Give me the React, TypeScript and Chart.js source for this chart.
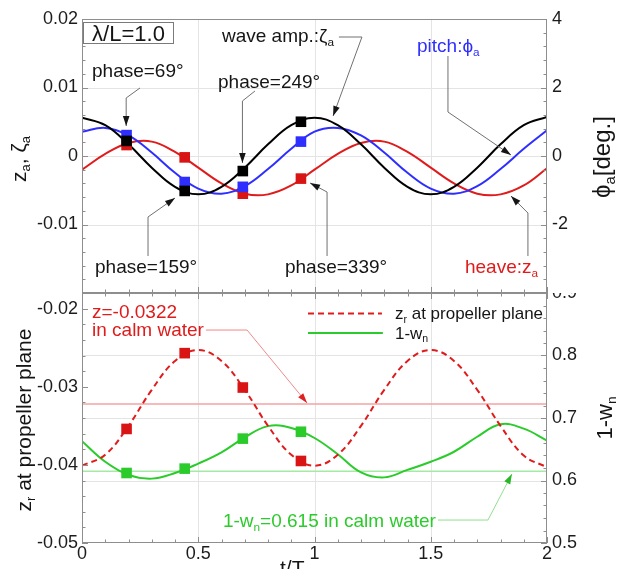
import React, { useEffect, useRef } from 'react';
import { Chart, registerables } from 'chart.js';

Chart.register(...registerables);

// ---------------- data ----------------
const tOverTe = [0, 0.1, 0.2, 0.3, 0.4, 0.5, 0.6, 0.7, 0.8, 0.9, 1.0, 1.1, 1.2, 1.3, 1.4, 1.5, 1.6, 1.7, 1.8, 1.9, 2.0];
const phaseDeg = [69, 159, 249, 339];

// top panel
const waveAmp = [0.0056, 0.0045, 0.0017, -0.0017, -0.0045, -0.0056, -0.0045, -0.0017, 0.0017, 0.0045, 0.0056, 0.0045, 0.0017, -0.0017, -0.0045, -0.0056, -0.0045, -0.0017, 0.0017, 0.0045, 0.0057];
const pitchDeg = [0.71, 0.82, 0.6, 0.1, -0.49, -0.95, -1.1, -0.88, -0.38, 0.21, 0.71, 0.82, 0.6, 0.1, -0.49, -0.95, -1.1, -0.88, -0.38, 0.21, 0.75];
const heave = [-0.002, 0.0003, 0.0019, 0.0021, 0.0006, -0.0017, -0.004, -0.0055, -0.0056, -0.0043, -0.002, 0.0003, 0.0019, 0.0021, 0.0006, -0.0017, -0.004, -0.0055, -0.0056, -0.0043, -0.0018];
const waveAmpAtPhase = [0.0022, -0.0051, -0.0022, 0.005];
const pitchAtPhase = [0.61, -0.76, -0.9, 0.42];
const heaveAtPhase = [0.0016, -0.0002, -0.0055, -0.0033];

// bottom panel
const zrPropeller = [-0.0401, -0.0387, -0.035, -0.0304, -0.0267, -0.0253, -0.0267, -0.0304, -0.035, -0.0387, -0.0401, -0.0387, -0.035, -0.0304, -0.0267, -0.0253, -0.0267, -0.0304, -0.035, -0.0388, -0.0403];
const oneMinusWn = [0.663, 0.63, 0.609, 0.603, 0.612, 0.627, 0.645, 0.669, 0.687, 0.684, 0.668, 0.642, 0.613, 0.605, 0.617, 0.63, 0.646, 0.67, 0.69, 0.683, 0.664];
const zrAtPhase = [-0.0354, -0.0257, -0.0301, -0.0395];
const wnAtPhase = [0.612, 0.619, 0.667, 0.678];
const zrCalmWater = -0.0322;
const wnCalmWater = 0.615;

// axes
const xRange = [0, 2];
const xTicks = [0, 0.5, 1, 1.5, 2];
const topLeftRange = [-0.02, 0.02];
const topLeftTicks = [0.02, 0.01, 0, -0.01];
const topRightRange = [-4, 4];
const topRightTicks = [4, 2, 0, -2];
const botLeftRange = [-0.05, -0.018];
const botLeftTicks = [-0.02, -0.03, -0.04, -0.05];
const botRightRange = [0.5, 0.9];
const botRightTicks = [0.9, 0.8, 0.7, 0.6, 0.5];

// ---------------- styling ----------------
const FONT = '"Liberation Sans", Arial, "DejaVu Sans", sans-serif';
const INK = '#151515';
const BLUE = '#2e2eff';
const RED = '#e01b1b';
const GREEN = '#2ccb2c';
const PINK = '#f3a3a3';
const LIGHTGREEN = '#a4e9a4';
const AXIS = '#8e8e8e';
const GRID = '#e4e4e4';
const ARROW = '#707070';

type Part = { t: string; sub?: boolean };

function partsWidth(ctx: CanvasRenderingContext2D, parts: Part[], size: number) {
  let w = 0;
  for (const p of parts) {
    ctx.font = `${p.sub ? size * 0.62 : size}px ${FONT}`;
    w += ctx.measureText(p.t).width;
  }
  return w;
}

function drawRich(ctx: CanvasRenderingContext2D, parts: Part[], x: number, baseline: number, size: number, color: string, align: 'left' | 'center' = 'left') {
  const w = partsWidth(ctx, parts, size);
  let cx = align === 'center' ? x - w / 2 : x;
  ctx.save();
  ctx.fillStyle = color;
  ctx.textAlign = 'left';
  ctx.textBaseline = 'alphabetic';
  for (const p of parts) {
    ctx.font = `${p.sub ? size * 0.62 : size}px ${FONT}`;
    ctx.fillText(p.t, cx, baseline + (p.sub ? size * 0.2 : 0));
    cx += ctx.measureText(p.t).width;
  }
  ctx.restore();
}

function drawRotated(ctx: CanvasRenderingContext2D, parts: Part[], bx: number, cy: number, size: number, color: string) {
  ctx.save();
  ctx.translate(bx, cy);
  ctx.rotate(-Math.PI / 2);
  drawRich(ctx, parts, 0, 0, size, color, 'center');
  ctx.restore();
}

function drawArrow(ctx: CanvasRenderingContext2D, pts: number[][], lineColor: string, headColor: string) {
  ctx.save();
  ctx.strokeStyle = lineColor;
  ctx.lineWidth = 1;
  ctx.beginPath();
  ctx.moveTo(pts[0][0], pts[0][1]);
  for (let i = 1; i < pts.length; i++) ctx.lineTo(pts[i][0], pts[i][1]);
  ctx.stroke();
  const [x1, y1] = pts[pts.length - 2];
  const [x2, y2] = pts[pts.length - 1];
  const a = Math.atan2(y2 - y1, x2 - x1);
  const L = 10, W = 3.3;
  ctx.fillStyle = headColor;
  ctx.beginPath();
  ctx.moveTo(x2, y2);
  ctx.lineTo(x2 - L * Math.cos(a) + W * Math.sin(a), y2 - L * Math.sin(a) - W * Math.cos(a));
  ctx.lineTo(x2 - L * Math.cos(a) - W * Math.sin(a), y2 - L * Math.sin(a) + W * Math.cos(a));
  ctx.closePath();
  ctx.fill();
  ctx.restore();
}

function drawGrid(chart: any, yScaleId: string, yList: number[]) {
  const { ctx, chartArea: a, scales } = chart;
  ctx.save();
  ctx.strokeStyle = GRID;
  ctx.lineWidth = 1;
  ctx.beginPath();
  for (const v of xTicks) {
    if (v <= xRange[0] || v >= xRange[1]) continue;
    const x = Math.round(scales.x.getPixelForValue(v)) + 0.5;
    ctx.moveTo(x, a.top);
    ctx.lineTo(x, a.bottom);
  }
  const ys = scales[yScaleId];
  for (const v of yList) {
    if (v <= ys.min + 1e-9 || v >= ys.max - 1e-9) continue;
    const y = Math.round(ys.getPixelForValue(v)) + 0.5;
    ctx.moveTo(a.left, y);
    ctx.lineTo(a.right, y);
  }
  ctx.stroke();
  ctx.restore();
}

function edgeTicks(chart: any, scaleId: string, edge: string, major: number, minor: number) {
  const { ctx, chartArea: a, scales } = chart;
  const s = scales[scaleId];
  const n0 = Math.ceil(s.min / minor - 1e-6);
  const n1 = Math.floor(s.max / minor + 1e-6);
  ctx.save();
  ctx.strokeStyle = AXIS;
  ctx.lineWidth = 1;
  ctx.beginPath();
  for (let i = n0; i <= n1; i++) {
    const v = i * minor;
    const r = v / major;
    const isMajor = Math.abs(r - Math.round(r)) < 1e-6;
    const len = isMajor ? 6 : 3.5;
    const p = Math.round(s.getPixelForValue(v)) + 0.5;
    if (edge === 'left') { ctx.moveTo(a.left, p); ctx.lineTo(a.left + len, p); }
    if (edge === 'right') { ctx.moveTo(a.right, p); ctx.lineTo(a.right - len, p); }
    if (edge === 'top') { ctx.moveTo(p, a.top); ctx.lineTo(p, a.top + len); }
    if (edge === 'bottom') { ctx.moveTo(p, a.bottom); ctx.lineTo(p, a.bottom - len); }
  }
  ctx.stroke();
  ctx.restore();
}

function drawBorder(chart: any) {
  const { ctx, chartArea: a } = chart;
  ctx.save();
  ctx.strokeStyle = AXIS;
  ctx.lineWidth = 1;
  ctx.strokeRect(Math.round(a.left) + 0.5, Math.round(a.top) + 0.5, Math.round(a.right - a.left) - 1, Math.round(a.bottom - a.top) - 1);
  ctx.restore();
}

type Note = { parts: Part[]; at: number[]; color: string; arrow?: number[][]; lineColor?: string; headColor?: string };

function drawNotes(chart: any, notes: Note[], size: number) {
  const { ctx, scales } = chart;
  const P = (p: number[]) => [scales.x.getPixelForValue(p[0]), scales.yL.getPixelForValue(p[1])];
  for (const n of notes) {
    const [x, y] = P(n.at);
    drawRich(ctx, n.parts, x, y + size * 0.36, size, n.color);
    if (n.arrow) drawArrow(ctx, n.arrow.map(P), n.lineColor || ARROW, n.headColor || INK);
  }
}

const topNotes: Note[] = [
  { parts: [{ t: 'phase=69°' }], at: [0.043, 0.01255], color: INK, arrow: [[0.2495, 0.00993], [0.19, 0.00847], [0.19, 0.00438]] },
  { parts: [{ t: 'phase=249°' }], at: [0.585, 0.01095], color: INK, arrow: [[0.744, 0.00949], [0.69, 0.00803], [0.69, -0.00102]] },
  { parts: [{ t: 'phase=159°' }], at: [0.056, -0.01606], color: INK, arrow: [[0.284, -0.0146], [0.284, -0.0089], [0.4, -0.00613]] },
  { parts: [{ t: 'phase=339°' }], at: [0.873, -0.01606], color: INK, arrow: [[1.054, -0.0146], [1.054, -0.00526], [0.981, -0.00394]] },
  { parts: [{ t: 'heave:' }, { t: 'z' }, { t: 'a', sub: true }], at: [1.647, -0.01606], color: RED, arrow: [[1.918, -0.0146], [1.918, -0.00832], [1.845, -0.00584]] },
  { parts: [{ t: 'wave amp.:' }, { t: 'ζ' }, { t: 'a', sub: true }], at: [0.602, 0.01766], color: INK, arrow: [[1.105, 0.01737], [1.204, 0.01737], [1.08, 0.00584]] },
  { parts: [{ t: 'pitch:' }, { t: 'ϕ' }, { t: 'a', sub: true }], at: [1.441, 0.0162], color: BLUE, arrow: [[1.574, 0.0146], [1.574, 0.00642], [1.845, 0.00015]] },
];

const bottomNotes: Note[] = [
  { parts: [{ t: 'z=-0.0322' }], at: [0.043, -0.0203], color: RED },
  { parts: [{ t: 'in calm water' }], at: [0.043, -0.02267], color: RED, arrow: [[0.533, -0.02274], [0.71, -0.02274], [0.968, -0.03208]], lineColor: '#f08a8a', headColor: '#dd2222' },
  { parts: [{ t: '1-w' }, { t: 'n', sub: true }, { t: '=0.615 in calm water' }], at: [0.606, -0.04706], color: GREEN, arrow: [[1.531, -0.04706], [1.746, -0.04706], [1.849, -0.04117]], lineColor: '#8fe08f', headColor: '#26b826' },
];

const topDecor = {
  id: 'topDecor',
  beforeDatasetsDraw(chart: any) {
    drawGrid(chart, 'yL', topLeftTicks);
  },
  afterDatasetsDraw(chart: any) {
    const { ctx, chartArea: a } = chart;
    edgeTicks(chart, 'yL', 'left', 0.01, 0.002);
    edgeTicks(chart, 'yR', 'right', 2, 0.4);
    edgeTicks(chart, 'x', 'bottom', 0.5, 0.1);
    drawBorder(chart);
    // lambda/L box
    ctx.save();
    ctx.fillStyle = '#ffffff';
    ctx.strokeStyle = '#7a7a7a';
    ctx.lineWidth = 1;
    ctx.fillRect(a.left + 1.5, a.top + 3.5, 90, 21);
    ctx.strokeRect(a.left + 1.5, a.top + 3.5, 90, 21);
    ctx.restore();
    drawRich(ctx, [{ t: 'λ/L=1.0' }], a.left + 46.5, a.top + 21.5, 22, INK, 'center');
    drawNotes(chart, topNotes, 19);
    drawRotated(ctx, [{ t: 'z' }, { t: 'a', sub: true }, { t: ', ' }, { t: 'ζ' }, { t: 'a', sub: true }], a.left - 56, 159, 21, INK);
    drawRotated(ctx, [{ t: 'ϕ' }, { t: 'a', sub: true }, { t: '[deg.]' }], a.right + 63, 157, 24, INK);
  },
};

const bottomDecor = {
  id: 'bottomDecor',
  beforeDatasetsDraw(chart: any) {
    drawGrid(chart, 'yR', botRightTicks);
  },
  afterDatasetsDraw(chart: any) {
    const { ctx, chartArea: a, scales } = chart;
    edgeTicks(chart, 'yL', 'left', 0.01, 0.002);
    edgeTicks(chart, 'yR', 'right', 0.1, 0.02);
    edgeTicks(chart, 'x', 'bottom', 0.5, 0.1);
    edgeTicks(chart, 'x', 'top', 0.5, 0.1);
    drawBorder(chart);
    drawNotes(chart, bottomNotes, 19);
    // legend
    const X = (t: number) => scales.x.getPixelForValue(t);
    const Y = (v: number) => scales.yL.getPixelForValue(v);
    ctx.save();
    ctx.lineWidth = 2;
    ctx.strokeStyle = RED;
    ctx.setLineDash([6, 4]);
    ctx.beginPath();
    ctx.moveTo(X(0.972), Y(-0.02062));
    ctx.lineTo(X(1.29), Y(-0.02062));
    ctx.stroke();
    ctx.setLineDash([]);
    ctx.strokeStyle = GREEN;
    ctx.beginPath();
    ctx.moveTo(X(0.972), Y(-0.02312));
    ctx.lineTo(X(1.294), Y(-0.02312));
    ctx.stroke();
    ctx.restore();
    drawRich(ctx, [{ t: 'z' }, { t: 'r', sub: true }, { t: ' at propeller plane' }], X(1.346), Y(-0.02062) + 6, 17, INK);
    drawRich(ctx, [{ t: '1-w' }, { t: 'n', sub: true }], X(1.346), Y(-0.02312) + 6, 17, INK);
    // axis titles
    drawRotated(ctx, [{ t: 'z' }, { t: 'r', sub: true }, { t: ' at propeller plane' }], a.left - 51, (a.top + a.bottom) / 2 + 2, 21, INK);
    drawRotated(ctx, [{ t: '1-w' }, { t: 'n', sub: true }], a.right + 65, (a.top + a.bottom) / 2, 22, INK);
    drawRich(ctx, [{ t: 't/T' }, { t: 'e', sub: true }], 280, a.bottom + 32, 21, INK);
  },
};

function yScale(position: string, range: number[], list: number[], width: number, pad: number) {
  return {
    type: 'linear',
    position,
    min: range[0],
    max: range[1],
    afterBuildTicks: (s: any) => { s.ticks = list.map((v) => ({ value: v })); },
    afterFit: (s: any) => { s.width = width; s.paddingTop = 0; s.paddingBottom = 0; },
    ticks: { font: { family: FONT, size: 18 }, color: '#1c1c1c', padding: pad, autoSkip: false, callback: (v: any) => String(v) },
    grid: { display: false, drawTicks: false },
    border: { display: false },
  };
}

function lineSet(values: number[], axis: string, color: string, dash?: number[]) {
  return {
    data: tOverTe.map((t, i) => ({ x: t, y: values[i] })),
    yAxisID: axis,
    borderColor: color,
    borderWidth: 2,
    borderDash: dash || [],
    pointRadius: 0,
    tension: 0.4,
    fill: false,
  };
}

function markerSet(values: number[], axis: string, color: string) {
  return {
    data: phaseDeg.map((p, i) => ({ x: p / 360, y: values[i] })),
    yAxisID: axis,
    showLine: false,
    pointStyle: 'rect',
    pointRadius: 7.5,
    pointBorderWidth: 0,
    pointBackgroundColor: color,
    pointBorderColor: color,
  };
}

function calmSet(value: number, axis: string, color: string) {
  return {
    data: xRange.map((t) => ({ x: t, y: value })),
    yAxisID: axis,
    borderColor: color,
    borderWidth: 1.5,
    pointRadius: 0,
    tension: 0,
  };
}

const commonPlugins = { legend: { display: false }, tooltip: { enabled: false } };

export default function App() {
  const topRef = useRef<HTMLCanvasElement>(null);
  const botRef = useRef<HTMLCanvasElement>(null);

  useEffect(() => {
    const top = new Chart(topRef.current as HTMLCanvasElement, {
      type: 'line',
      data: {
        datasets: [
          markerSet(waveAmpAtPhase, 'yL', '#000000'),
          markerSet(pitchAtPhase, 'yR', BLUE),
          markerSet(heaveAtPhase, 'yL', '#d81414'),
          lineSet(waveAmp, 'yL', '#000000'),
          lineSet(pitchDeg, 'yR', BLUE),
          lineSet(heave, 'yL', RED),
        ] as any,
      },
      options: {
        animation: false,
        responsive: false,
        events: [],
        layout: { padding: { top: 19, left: 0, right: 0, bottom: 0 }, autoPadding: false },
        plugins: commonPlugins,
        scales: {
          x: { type: 'linear', min: xRange[0], max: xRange[1], display: false },
          yL: yScale('left', topLeftRange, topLeftTicks, 82, 4),
          yR: yScale('right', topRightRange, topRightTicks, 75, 5),
        } as any,
      },
      plugins: [topDecor],
    });

    const bot = new Chart(botRef.current as HTMLCanvasElement, {
      type: 'line',
      data: {
        datasets: [
          markerSet(zrAtPhase, 'yL', '#d81414'),
          markerSet(wnAtPhase, 'yR', GREEN),
          lineSet(zrPropeller, 'yL', RED, [6, 4]),
          lineSet(oneMinusWn, 'yR', GREEN),
          calmSet(zrCalmWater, 'yL', PINK),
          calmSet(wnCalmWater, 'yR', LIGHTGREEN),
        ] as any,
      },
      options: {
        animation: false,
        responsive: false,
        events: [],
        layout: { padding: 0, autoPadding: false },
        plugins: commonPlugins,
        scales: {
          x: {
            type: 'linear',
            min: xRange[0],
            max: xRange[1],
            afterBuildTicks: (s: any) => { s.ticks = xTicks.map((v) => ({ value: v })); },
            afterFit: (s: any) => { s.height = 26; s.paddingLeft = 0; s.paddingRight = 0; },
            ticks: { font: { family: FONT, size: 18 }, color: '#1c1c1c', padding: 0, autoSkip: false, maxRotation: 0, callback: (v: any) => String(v) },
            grid: { display: false, drawTicks: false },
            border: { display: false },
          },
          yL: yScale('left', botLeftRange, botLeftTicks, 82, 4),
          yR: yScale('right', botRightRange, botRightTicks, 75, 5),
        } as any,
      },
      plugins: [bottomDecor],
    });

    return () => {
      top.destroy();
      bot.destroy();
    };
  }, []);

  return (
    <div style={{ position: 'fixed', left: 0, top: 0, width: 622, height: 569, background: '#ffffff', overflow: 'hidden' }}>
      <canvas ref={topRef} width={622} height={293} style={{ position: 'absolute', left: 0, top: 0 }} />
      <canvas ref={botRef} width={622} height={276} style={{ position: 'absolute', left: 0, top: 293 }} />
    </div>
  );
}
